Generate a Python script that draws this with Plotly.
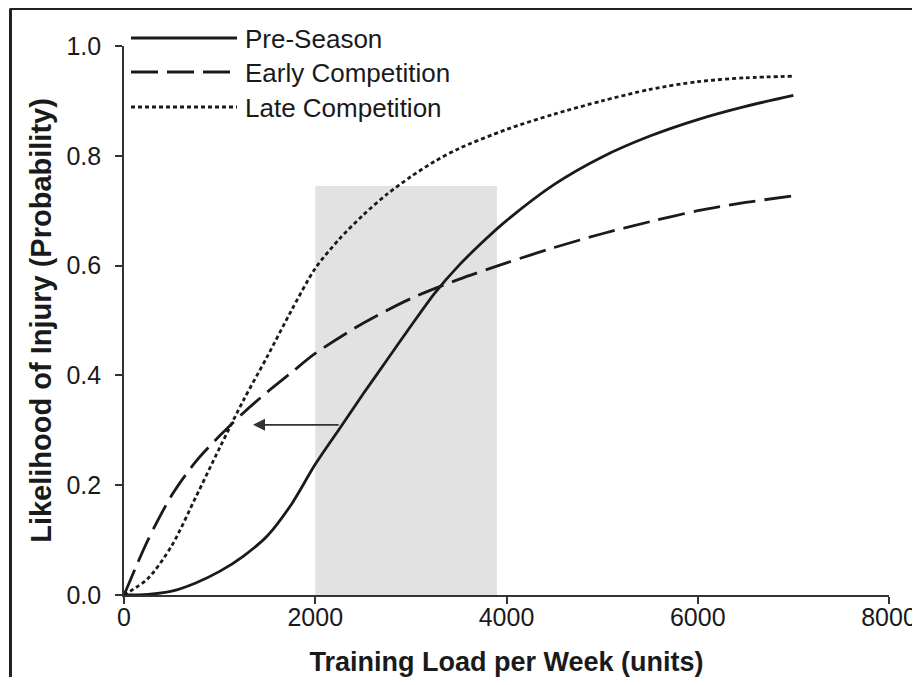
import plotly.graph_objects as go

# ---------------- data ----------------
pre_x = [0, 250, 500, 750, 1000, 1250, 1500, 1750, 2000, 2250, 2500, 2750, 3000,
         3250, 3500, 3750, 4000, 4500, 5000, 5500, 6000, 6500, 7000]
pre_y = [0.0, 0.001, 0.007, 0.022, 0.043, 0.071, 0.108, 0.165, 0.238, 0.302, 0.366,
         0.428, 0.49, 0.55, 0.60, 0.643, 0.682, 0.748, 0.798, 0.836, 0.866, 0.89, 0.91]

early_x = [0, 250, 500, 750, 1000, 1250, 1500, 1750, 2000, 2500, 3000, 3500, 4000,
           4500, 5000, 5500, 6000, 6500, 7000]
early_y = [0.0, 0.10, 0.182, 0.243, 0.29, 0.332, 0.37, 0.405, 0.44, 0.495, 0.54,
           0.575, 0.605, 0.633, 0.658, 0.68, 0.70, 0.715, 0.727]

late_x = [0, 250, 500, 750, 1000, 1250, 1500, 1750, 2000, 2250, 2500, 2750, 3000,
          3250, 3500, 4000, 4500, 5000, 5500, 6000, 6500, 7000]
late_y = [0.0, 0.03, 0.09, 0.178, 0.268, 0.355, 0.435, 0.518, 0.595, 0.648, 0.692,
          0.73, 0.762, 0.79, 0.813, 0.848, 0.876, 0.90, 0.921, 0.935, 0.942, 0.945]

series_names = ["Pre-Season", "Early Competition", "Late Competition"]

zone_x = [2000, 3900]          # shaded training-load band
zone_top = 0.745
arrow_from = [2260, 0.31]      # arrow tail (x, y)
arrow_to = [1350, 0.31]        # arrow head (x, y)

x_ticks = [0, 2000, 4000, 6000, 8000]
y_ticks = [0.0, 0.2, 0.4, 0.6, 0.8, 1.0]
y_tick_text = ["0.0", "0.2", "0.4", "0.6", "0.8", "1.0"]

x_title = "Training Load per Week (units)"
y_title = "Likelihood of Injury (Probability)"

# ---------------- styles ----------------
FONT = "Liberation Sans, Arial, Helvetica, sans-serif"
INK = "#1a1a1a"
dashes = ["solid", "27px,9px", "4px,3px"]
LW = 2.8

# page body has an 8px margin: figure is placed at (8, 8) in the window
W, H_FIG = 912, 669
M_L, M_T = 116, 38
PLOT_W, PLOT_H = 765, 549

fig = go.Figure()
for xs, ys, name, dash in zip([pre_x, early_x, late_x], [pre_y, early_y, late_y],
                               series_names, dashes):
    fig.add_trace(go.Scatter(x=xs, y=ys, mode="lines", name=name,
                             line=dict(color=INK, width=LW, dash=dash, shape="spline",
                                       smoothing=0.8),
                             showlegend=False, hoverinfo="x+y+name"))

# shaded band
fig.add_shape(type="rect", xref="x", yref="y", x0=zone_x[0], x1=zone_x[1],
              y0=0, y1=zone_top, fillcolor="#e2e2e2", line=dict(width=0), layer="below")

# arrow
fig.add_annotation(x=arrow_to[0], y=arrow_to[1], ax=arrow_from[0], ay=arrow_from[1],
                   xref="x", yref="y", axref="x", ayref="y", text="", showarrow=True,
                   arrowhead=2, arrowsize=1.4, arrowwidth=1.7, arrowcolor="#333333")


def px2x(px):  # window pixel -> paper x
    return (px - 124) / PLOT_W


def px2y(py):  # window pixel -> paper y
    return (595 - py) / PLOT_H


# manual legend (long line samples as in the original)
legend_rows = [38, 72, 107]
for name, dash, row in zip(series_names, dashes, legend_rows):
    fig.add_shape(type="line", xref="paper", yref="paper", x0=px2x(131), x1=px2x(237),
                  y0=px2y(row), y1=px2y(row), line=dict(color=INK, width=LW, dash=dash))
    fig.add_annotation(xref="paper", yref="paper", x=px2x(243), y=px2y(row + 1), text=name,
                       showarrow=False, xanchor="left", yanchor="middle",
                       font=dict(family=FONT, size=26, color=INK))

# outer frame (top and left)
fig.add_shape(type="line", xref="paper", yref="paper", x0=px2x(10), x1=px2x(930),
              y0=px2y(8.5), y1=px2y(8.5), line=dict(color="#222222", width=3))
fig.add_shape(type="line", xref="paper", yref="paper", x0=px2x(10.5), x1=px2x(10.5),
              y0=px2y(8.5), y1=px2y(700), line=dict(color="#222222", width=3))

axis_common = dict(showgrid=False, zeroline=False, showline=True, linecolor="#333333",
                   linewidth=1.6, ticks="outside", ticklen=7, tickwidth=1.6,
                   tickcolor="#333333", tickfont=dict(family=FONT, size=25, color=INK))

fig.update_layout(
    width=W, height=H_FIG,
    margin=dict(l=M_L, r=W - M_L - PLOT_W, t=M_T, b=H_FIG - M_T - PLOT_H, autoexpand=False),
    paper_bgcolor="white", plot_bgcolor="white",
    showlegend=False,
    xaxis=dict(range=[0, 8000], tickvals=x_ticks, ticktext=[str(v) for v in x_ticks],
               ticklabelstandoff=-8,
               title=dict(text="<b>" + x_title + "</b>", standoff=24,
                          font=dict(family=FONT, size=27, color=INK)),
               **axis_common),
    yaxis=dict(range=[0, 1.0], tickvals=y_ticks, ticktext=y_tick_text,
               ticklabelstandoff=9,
               title=dict(text="<b>" + y_title + "</b>", standoff=6,
                          font=dict(family=FONT, size=29, color=INK)),
               **axis_common),
)

fig.write_html("out.html")
